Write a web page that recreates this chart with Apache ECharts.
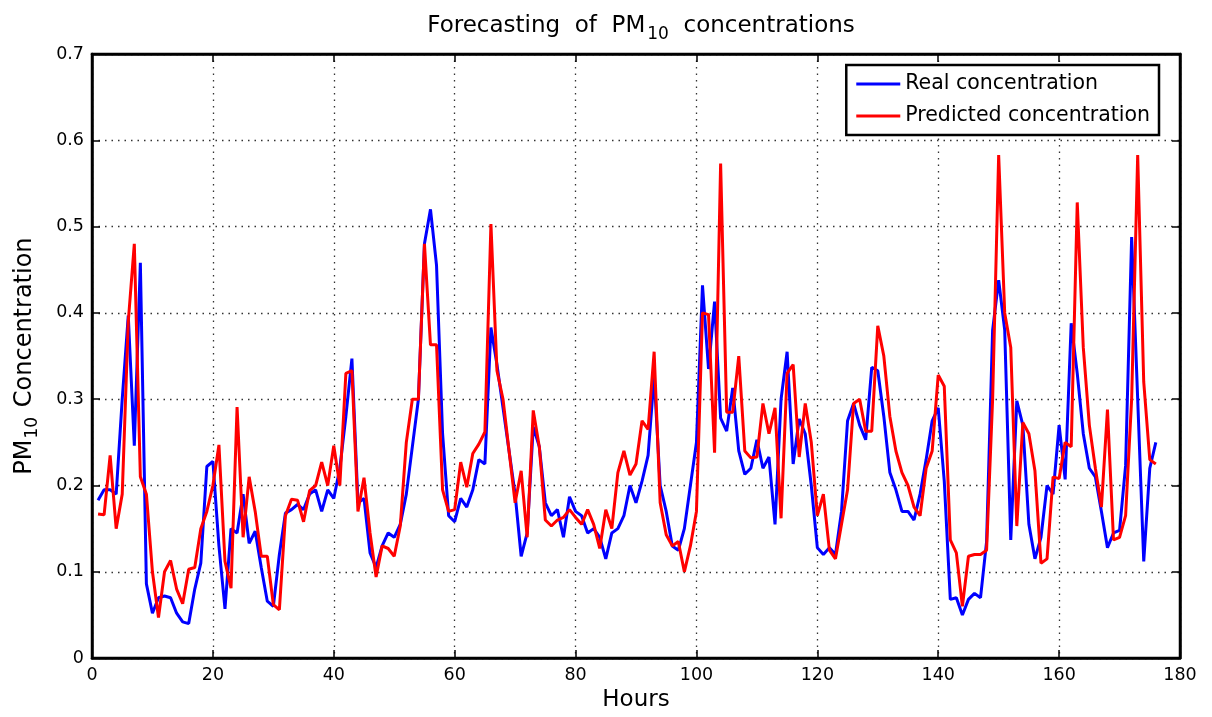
<!DOCTYPE html>
<html>
<head>
<meta charset="utf-8">
<script src="https://cdn.jsdelivr.net/npm/echarts@6/dist/echarts.min.js"></script>
<style>html,body{margin:0;padding:0;background:#fff;}#c{width:1212px;height:717px;}</style>
</head>
<body>
<div id="c"></div>
<script>
const hours = Array.from({length:176}, (_, i) => i + 1);
const realConc = [
0.183,0.195,0.195,0.19,0.3,0.397,0.246,0.458,0.086,0.052,
0.07,0.072,0.07,0.052,0.042,0.04,0.08,0.11,0.222,0.228,
0.13,0.057,0.15,0.145,0.19,0.133,0.147,0.105,0.066,0.06,
0.12,0.168,0.172,0.178,0.172,0.19,0.195,0.17,0.195,0.185,
0.22,0.28,0.347,0.18,0.185,0.122,0.105,0.13,0.145,0.14,
0.155,0.19,0.245,0.3,0.48,0.52,0.455,0.26,0.165,0.158,
0.185,0.175,0.195,0.23,0.225,0.383,0.34,0.29,0.24,0.19,
0.118,0.145,0.268,0.245,0.18,0.165,0.172,0.14,0.187,0.17,
0.165,0.145,0.15,0.14,0.115,0.145,0.15,0.165,0.2,0.18,
0.205,0.235,0.327,0.2,0.17,0.13,0.125,0.15,0.2,0.25,
0.432,0.335,0.413,0.278,0.263,0.313,0.24,0.213,0.22,0.253,
0.22,0.233,0.155,0.3,0.355,0.225,0.277,0.26,0.2,0.128,
0.12,0.128,0.12,0.17,0.275,0.295,0.27,0.253,0.337,0.333,
0.28,0.215,0.195,0.17,0.17,0.16,0.19,0.23,0.275,0.29,
0.205,0.068,0.07,0.05,0.068,0.075,0.07,0.135,0.38,0.438,
0.38,0.137,0.298,0.27,0.155,0.115,0.14,0.2,0.19,0.27,
0.207,0.388,0.33,0.26,0.22,0.21,0.17,0.128,0.145,0.148,
0.223,0.488,0.3,0.112,0.22,0.25];
const predConc = [
0.167,0.166,0.235,0.15,0.19,0.39,0.48,0.21,0.19,0.1,
0.047,0.1,0.113,0.08,0.063,0.103,0.105,0.15,0.17,0.2,
0.247,0.112,0.081,0.291,0.14,0.21,0.17,0.118,0.118,0.062,
0.056,0.165,0.184,0.183,0.158,0.194,0.2,0.227,0.2,0.246,
0.2,0.33,0.333,0.17,0.209,0.145,0.094,0.13,0.127,0.118,
0.153,0.25,0.3,0.3,0.48,0.363,0.363,0.195,0.17,0.172,
0.227,0.198,0.237,0.248,0.262,0.503,0.333,0.3,0.24,0.18,
0.217,0.14,0.287,0.245,0.16,0.153,0.16,0.163,0.172,0.163,
0.155,0.172,0.155,0.127,0.172,0.15,0.215,0.24,0.212,0.225,
0.275,0.265,0.355,0.18,0.143,0.13,0.135,0.1,0.13,0.17,
0.4,0.398,0.238,0.573,0.285,0.285,0.35,0.24,0.232,0.233,
0.295,0.26,0.29,0.162,0.33,0.34,0.233,0.295,0.25,0.165,
0.19,0.125,0.115,0.155,0.195,0.295,0.3,0.263,0.263,0.385,
0.35,0.28,0.24,0.215,0.2,0.175,0.165,0.22,0.24,0.328,
0.315,0.137,0.122,0.06,0.118,0.12,0.12,0.125,0.3,0.583,
0.4,0.36,0.153,0.273,0.26,0.217,0.11,0.115,0.21,0.208,
0.25,0.245,0.528,0.36,0.27,0.22,0.175,0.288,0.137,0.14,
0.165,0.3,0.583,0.32,0.23,0.225];
const xTicks = [0,20,40,60,80,100,120,140,160,180];
const yTicks = [0,0.1,0.2,0.3,0.4,0.5,0.6,0.7];

const FONT = '"DejaVu Sans", "Liberation Sans", sans-serif';
const chart = echarts.init(document.getElementById('c'));
const pair = arr => hours.map((h, i) => [h, arr[i]]);
const axisCommon = {
  axisLine: {show: true, onZero: false, lineStyle: {color: '#000', width: 2.5}},
  axisTick: {show: true, inside: true, length: 8, lineStyle: {color: '#000', width: 1.5}},
};
chart.setOption({
  animation: false,
  backgroundColor: '#fff',
  title: {
    text: '{a|Forecasting  of  PM}{s|10}{a|  concentrations}',
    left: 636, top: 7, textAlign: 'center',
    textStyle: {
      fontWeight: 'normal',
      rich: {
        a: {fontFamily: FONT, fontSize: 23, fontWeight: 'normal', color: '#000', lineHeight: 28},
        s: {fontFamily: FONT, fontSize: 17, fontWeight: 'normal', color: '#000', padding: [17, 0, 0, 2], lineHeight: 28}
      }
    }
  },
  legend: {
    data: ['Real concentration', 'Predicted concentration'],
    orient: 'vertical',
    right: 53, top: 65,
    backgroundColor: '#fff',
    borderColor: '#000', borderWidth: 2.5,
    padding: [7, 9, 7, 10],
    itemGap: 8,
    itemWidth: 44, itemHeight: 3,
    icon: 'rect',
    textStyle: {fontFamily: FONT, fontSize: 20.5, color: '#000', lineHeight: 24}
  },
  grid: {left: 92, right: 32, top: 54, bottom: 57, show: true, borderColor: '#000', borderWidth: 2.5},
  xAxis: [{
    type: 'value', min: 0, max: 180, interval: 20, position: 'bottom',
    name: 'Hours', nameLocation: 'middle', nameGap: 29,
    nameTextStyle: {fontFamily: FONT, fontSize: 23, color: '#000'},
    axisLabel: {fontFamily: FONT, fontSize: 17.5, color: '#000', margin: 8},
    splitLine: {show: true, lineStyle: {color: '#333', type: [1.5, 5], width: 1.3}},
    ...axisCommon
  }, {
    type: 'value', min: 0, max: 180, interval: 20, position: 'top',
    axisLabel: {show: false}, splitLine: {show: false},
    ...axisCommon
  }],
  yAxis: [{
    type: 'value', min: 0, max: 0.7, interval: 0.1, position: 'left',
    name: '{a|PM}{s|10}{a| Concentration}', nameLocation: 'middle', nameGap: 52,
    nameTextStyle: {
      rich: {
        a: {fontFamily: FONT, fontSize: 24, color: '#000', lineHeight: 30},
        s: {fontFamily: FONT, fontSize: 17, color: '#000', padding: [16, 2, 0, 1], lineHeight: 30}
      }
    },
    axisLabel: {fontFamily: FONT, fontSize: 17.5, color: '#000', margin: 8,
      formatter: v => (Math.round(v * 10) / 10).toString()},
    splitLine: {show: true, lineStyle: {color: '#333', type: [1.5, 5], width: 1.3}},
    ...axisCommon
  }, {
    type: 'value', min: 0, max: 0.7, interval: 0.1, position: 'right',
    axisLabel: {show: false}, splitLine: {show: false},
    ...axisCommon
  }],
  series: [{
    name: 'Real concentration', type: 'line', data: pair(realConc),
    showSymbol: false, symbol: 'none', color: '#0000ff',
    lineStyle: {color: '#0000ff', width: 3}, z: 3
  }, {
    name: 'Predicted concentration', type: 'line', data: pair(predConc),
    showSymbol: false, symbol: 'none', color: '#ff0000',
    lineStyle: {color: '#ff0000', width: 3}, z: 4
  }]
});
</script>
</body>
</html>
